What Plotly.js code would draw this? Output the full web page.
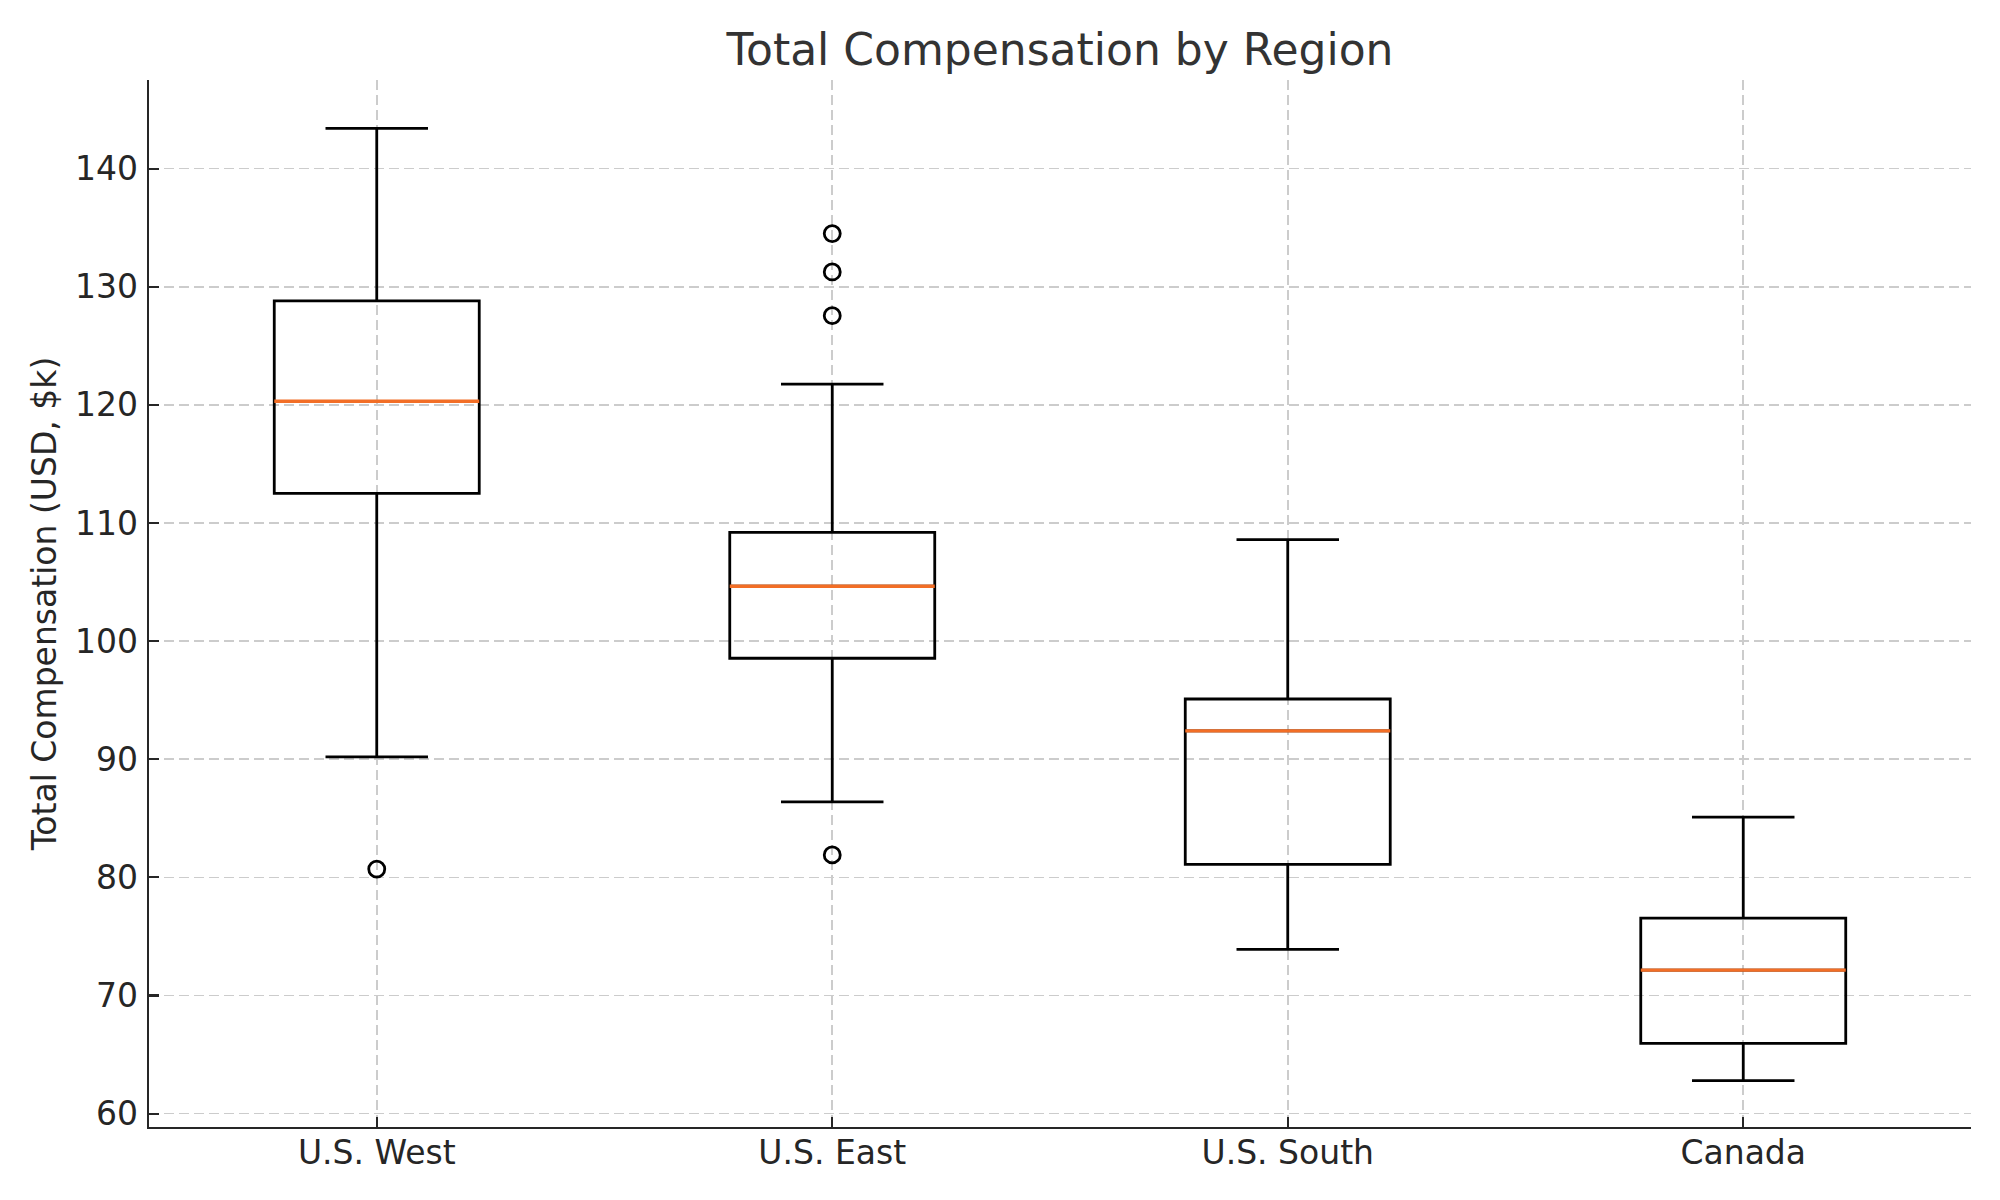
<!DOCTYPE html>
<html>
<head>
<meta charset="utf-8">
<script src="https://cdn.plot.ly/plotly-3.0.1.min.js"></script>
<style>html,body{margin:0;padding:0;background:#fff;}#chart{width:2000px;height:1200px;}</style>
</head>
<body>
<div id="chart"></div>
<script>
// Data (USD, $k)
const regions = ["U.S. West", "U.S. East", "U.S. South", "Canada"];
const positions = [1, 2, 3, 4];
const lowerWhisker = [90.2, 86.4, 73.9, 62.8];
const q1Values = [112.5, 98.55, 81.1, 65.95];
const medianValues = [120.3, 104.65, 92.4, 72.15];
const q3Values = [128.8, 109.2, 95.1, 76.55];
const upperWhisker = [143.4, 121.75, 108.6, 85.1];
const outlierRegion = [1, 2, 2, 2, 2];
const outlierValues = [80.7, 134.5, 131.25, 127.55, 81.9];
const yTicks = [60, 70, 80, 90, 100, 110, 120, 130, 140];

const boxWidth = 0.45;
const FONT = "DejaVu Sans, sans-serif";

const traces = [];
traces.push({
  type: "box",
  x: positions,
  q1: q1Values,
  median: medianValues,
  q3: q3Values,
  lowerfence: lowerWhisker,
  upperfence: upperWhisker,
  boxpoints: false,
  width: boxWidth,
  whiskerwidth: 0.5,
  fillcolor: "rgba(255,255,255,0)",
  line: {color: "#000000", width: 2.8},
  hoverinfo: "skip",
  showlegend: false
});
// orange median lines
positions.forEach((p, i) => {
  traces.push({
    type: "scatter",
    mode: "lines",
    x: [p - boxWidth / 2, p + boxWidth / 2],
    y: [medianValues[i], medianValues[i]],
    line: {color: "#f26e26", width: 3.4},
    hoverinfo: "skip",
    showlegend: false
  });
});
// outliers
traces.push({
  type: "scatter",
  mode: "markers",
  x: outlierRegion,
  y: outlierValues,
  marker: {symbol: "circle-open", size: 16, color: "#000000", line: {width: 2.8, color: "#000000"}},
  hoverinfo: "skip",
  showlegend: false
});

const layout = {
  width: 2000,
  height: 1200,
  paper_bgcolor: "#ffffff",
  plot_bgcolor: "#ffffff",
  margin: {l: 149, r: 29, t: 80, b: 73, pad: 0},
  font: {family: FONT, size: 33, color: "#262626"},
  title: {
    text: "Total Compensation by Region",
    font: {family: FONT, size: 44, color: "#333333"},
    x: 0.5, xref: "paper", xanchor: "center",
    y: 1 - 50 / 1200, yref: "container", yanchor: "middle"
  },
  xaxis: {
    range: [0.5, 4.5],
    tickmode: "array",
    tickvals: positions,
    ticktext: regions,
    ticks: "inside",
    ticklen: 10,
    tickwidth: 2.2,
    tickcolor: "#262626",
    showline: true,
    linecolor: "#262626",
    linewidth: 2.4,
    mirror: false,
    showgrid: true,
    gridcolor: "#cccccc",
    gridwidth: 1.6,
    griddash: "10px,5px",
    zeroline: false,
    tickfont: {family: FONT, size: 33, color: "#262626"},
    ticklabelstandoff: -5,
    fixedrange: true
  },
  yaxis: {
    range: [58.87, 147.5],
    tickmode: "array",
    tickvals: yTicks,
    ticktext: yTicks.map(String),
    ticks: "inside",
    ticklen: 10,
    tickwidth: 2.2,
    tickcolor: "#262626",
    showline: true,
    linecolor: "#262626",
    linewidth: 2.4,
    mirror: false,
    showgrid: true,
    gridcolor: "#cccccc",
    gridwidth: 1.6,
    griddash: "10px,5px",
    zeroline: false,
    tickfont: {family: FONT, size: 33, color: "#262626"},
    ticklabelstandoff: 2,
    title: {text: "Total Compensation (USD, $k)", font: {family: FONT, size: 33, color: "#262626"}, standoff: 9},
    fixedrange: true
  },
  showlegend: false
};

Plotly.newPlot("chart", traces, layout, {displayModeBar: false, staticPlot: true});
</script>
</body>
</html>
